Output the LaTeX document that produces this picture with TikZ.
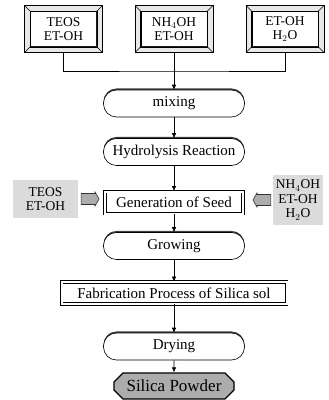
\documentclass[tikz,border=0pt]{standalone}
\usepackage{fontspec}
\setmainfont{Liberation Serif}
\usetikzlibrary{arrows.meta,shapes.misc,shapes.arrows,shadows}

\begin{document}
\begin{tikzpicture}[x=1pt,y=-1pt,>={Latex[length=5pt,width=4.5pt]},semithick,
  every node/.style={align=center,inner sep=0pt,font=\fontsize{15}{17}\selectfont},
  bevel/.style={draw,fill=white,minimum width=66pt,minimum height=35pt,font=\fontsize{13.5}{14.5}\selectfont},
  pill/.style={draw,fill=white,rounded corners=13pt,minimum width=141pt,minimum height=27pt,
    general shadow={fill=black!75,shadow yshift=1.6pt}},
  framed/.style={draw,fill=white,double,double distance=2pt,line width=0.7pt,minimum height=22pt},
  feed/.style={fill=gray!28,minimum width=65pt,font=\fontsize{13.5}{14.5}\selectfont},
  blockarrow/.style={single arrow,draw=black!80,fill=gray!65,minimum height=18pt,minimum width=14pt,
    inner xsep=6pt,inner ysep=5pt,single arrow head extend=1.5pt,single arrow tip angle=120}]
\useasboundingbox (0,0) rectangle (329,400);

% raw materials
\foreach \n/\x/\t in {teos/63.5/{TEOS\\ET-OH}, nh/174/{NH$_4$OH\\ET-OH}, eth/285/{ET-OH\\H$_2$O}}{
  \node[bevel] (\n) at (\x,29) {\t};
  \draw[fill=gray!18,even odd rule] ([shift={(-5.5,-5.5)}]\n.north west) rectangle ([shift={(5.5,5.5)}]\n.south east)
    (\n.north west) rectangle (\n.south east);
  \draw ([shift={(-5.5,-5.5)}]\n.north west) -- (\n.north west)
    ([shift={(5.5,-5.5)}]\n.north east) -- (\n.north east)
    ([shift={(-5.5,5.5)}]\n.south west) -- (\n.south west)
    ([shift={(5.5,5.5)}]\n.south east) -- (\n.south east);
}

\node[pill] (mixing) at (174,103.5) {mixing};
\node[pill] (hydro) at (174,152) {Hydrolysis Reaction};
\node[framed,minimum width=138pt] (seed) at (174,202.5) {Generation of Seed};
\node[pill] (grow) at (174,246) {Growing};
\node[framed,minimum width=225pt] (fab) at (174,293) {Fabrication Process of Silica sol};
\node[pill] (dry) at (174,346.5) {Drying};
\node[chamfered rectangle,chamfered rectangle xsep=7pt,draw,line width=1.2pt,fill=gray!65,
  minimum width=120pt,minimum height=26pt,font=\fontsize{17}{19}\selectfont] (powder) at (174,386) {Silica Powder};

% additives at the seed step
\node[feed,minimum height=38pt] (lfeed) at (45.5,199) {TEOS\\ET-OH};
\node[feed,minimum width=50pt,minimum height=50pt] (rfeed) at (298,200) {NH$_4$OH\\ET-OH\\H$_2$O};
\node[blockarrow] (larr) at (88.5,199) {};
\node[blockarrow,shape border rotate=180] (rarr) at (263.5,200) {};

\coordinate (join) at (174,71);
\draw ([yshift=-5.5pt]teos.south) |- (join) -| ([yshift=-5.5pt]eth.south);
\draw[->] ([yshift=-5.5pt]nh.south) -- (mixing);
\foreach \a/\b in {mixing/hydro, hydro/seed, seed/grow, grow/fab, fab/dry, dry/powder}
  \draw[->] (\a) -- (\b);
\end{tikzpicture}
\end{document}
